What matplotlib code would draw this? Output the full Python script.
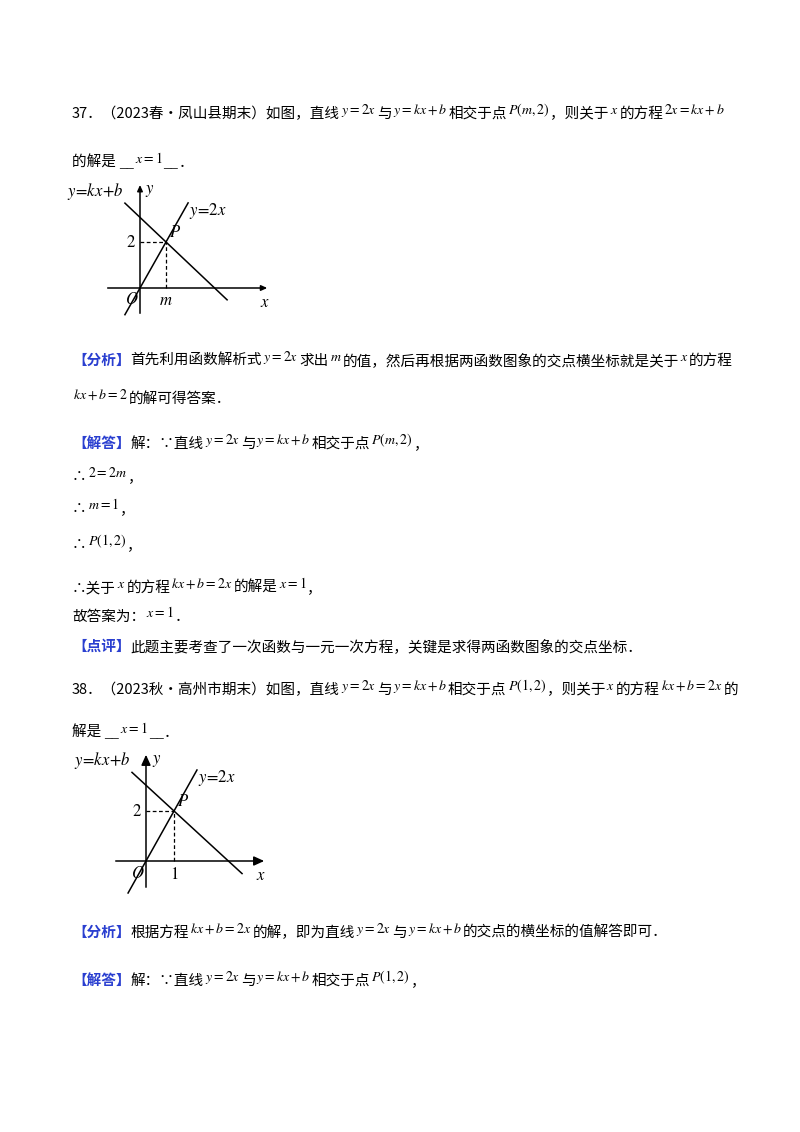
import re
import numpy as np
import matplotlib
matplotlib.use("Agg")
import matplotlib.pyplot as plt

plt.rcParams['mathtext.fontset'] = 'stix'
CJK = ['Noto Sans CJK SC', 'DejaVu Sans']
BLUE = '#2a3fd0'

# text lines of the page: (y pixel, content); {..} is math, 【..】 is blue label
lines = [
    (118, "37．（2023春•凤山县期末）如图，直线{y=2x}与{y=kx+b}相交于点{P(m,2)}，则关于{x}的方程{2x=kx+b}"),
    (167, "的解是 __{x=1}__．"),
    (365, "【分析】首先利用函数解析式{y=2x}求出{m}的值，然后再根据两函数图象的交点横坐标就是关于{x}的方程"),
    (403, "{kx+b=2}的解可得答案．"),
    (448, "【解答】解：∵直线{y=2x}与{y=kx+b}相交于点{P(m,2)}，"),
    (481, "∴{2=2m}，"),
    (513, "∴{m=1}，"),
    (549, "∴{P(1,2)}，"),
    (592, "∴关于{x}的方程{kx+b=2x}的解是{x=1}，"),
    (621, "故答案为：{x=1}．"),
    (651, "【点评】此题主要考查了一次函数与一元一次方程，关键是求得两函数图象的交点坐标．"),
    (694, "38．（2023秋•高州市期末）如图，直线{y=2x}与{y=kx+b}相交于点{P(1,2)}，则关于{x}的方程{kx+b=2x}的"),
    (737, "解是 __{x=1}__．"),
    (937, "【分析】根据方程{kx+b=2x}的解，即为直线{y=2x}与{y=kx+b}的交点的横坐标的值解答即可．"),
    (985, "【解答】解：∵直线{y=2x}与{y=kx+b}相交于点{P(1,2)}，"),
]

# diagram values
P1 = (1, 2)          # P(m,2), m drawn at 1
k1, b1 = -1.07, 3.07
P2 = (1, 2)
k2, b2 = -1.03, 3.03

W, H = 800, 1132
fig = plt.figure(figsize=(8, 11.32), dpi=100)
renderer = fig.canvas.get_renderer()


def put(x, y, s, **kw):
    t = fig.text(x / W, 1 - y / H, s, va='baseline', ha='left', **kw)
    return x + t.get_window_extent(renderer).width


def draw_line(y, content, x=72):
    m = re.match(r"【(.*?)】(.*)", content)
    if m:
        x = put(x, y, "【" + m.group(1) + "】", family=CJK, fontsize=10.5,
                color=BLUE, weight='bold')
        content = m.group(2)
    for i, part in enumerate(re.split(r"[{}]", content)):
        if not part:
            continue
        if i % 2:
            x = put(x + 1, y - 4, "$" + part + "$", fontsize=10) + 1
            continue
        for piece in re.split(r"(__)", part):
            if not piece:
                continue
            if piece == "__":
                x = put(x, y, piece, family=['Liberation Serif'], fontsize=10.5)
            else:
                x = put(x, y, piece, family=CJK, fontsize=10.5)


for y, c in lines:
    draw_line(y, c)


def diagram(ox, oy, ux, uy, xr, yr, k, b, P, xs1, xs2, mlabel, box, big_arrow):
    l, r, t, btm = box
    ax = fig.add_axes([l / W, 1 - btm / H, (r - l) / W, (btm - t) / H])
    ax.set_xlim((l - ox) / ux, (r - ox) / ux)
    ax.set_ylim((oy - btm) / uy, (oy - t) / uy)
    ax.axis('off')
    hw = 0.28 if big_arrow else 0.16
    style = '-|>,head_width=%g,head_length=%g' % (hw, hw * 2.2)
    ax.annotate('', xy=(xr[1], 0), xytext=(xr[0], 0),
                arrowprops=dict(arrowstyle=style, lw=1.1, color='k'))
    ax.annotate('', xy=(0, yr[1]), xytext=(0, yr[0]),
                arrowprops=dict(arrowstyle=style, lw=1.1, color='k'))
    x = np.array(xs1)
    ax.plot(x, 2 * x, color='k', lw=1.1)
    x = np.array(xs2)
    ax.plot(x, k * x + b, color='k', lw=1.1)
    ax.plot([0, P[0]], [P[1], P[1]], 'k--', lw=0.9, dashes=(3, 2))
    ax.plot([P[0], P[0]], [0, P[1]], 'k--', lw=0.9, dashes=(3, 2))
    fs = 12
    ax.text(-0.15, P[1], '$2$', ha='right', va='center', fontsize=fs)
    ax.text(P[0] + 0.12, P[1] + 0.05, '$P$', ha='left', va='bottom', fontsize=fs)
    ax.text(-0.05, -0.1, '$O$', ha='right', va='top', fontsize=fs)
    ax.text(P[0], -0.15, '$%s$' % mlabel, ha='center', va='top', fontsize=fs)
    ax.text(xr[1] - 0.2, -0.2, '$x$', ha='center', va='top', fontsize=fs)
    ax.text(0.2, yr[1] + 0.05, '$y$', ha='left', va='top', fontsize=fs)
    ax.text(xs1[1] + 0.05, 2 * xs1[1] + 0.1, '$y\\!=\\!2x$', ha='left', va='top', fontsize=fs)
    ax.text(xs2[0] - 0.05, k * xs2[0] + b + 0.05, '$y\\!=\\!kx\\!+\\!b$', ha='right',
            va='bottom', fontsize=fs)
    return ax


diagram(140, 288, 26, 23, (-1.35, 5.0), (-1.22, 4.6), k1, b1, P1,
        (-0.58, 1.85), (-0.58, 3.35), 'm', (60, 285, 175, 330), False)
diagram(146, 861, 28, 25, (-1.18, 4.32), (-1.16, 4.36), k2, b2, P2,
        (-0.64, 1.82), (-0.5, 3.43), '1', (60, 285, 745, 905), True)

fig.savefig('out.png', dpi=100, facecolor='white')
